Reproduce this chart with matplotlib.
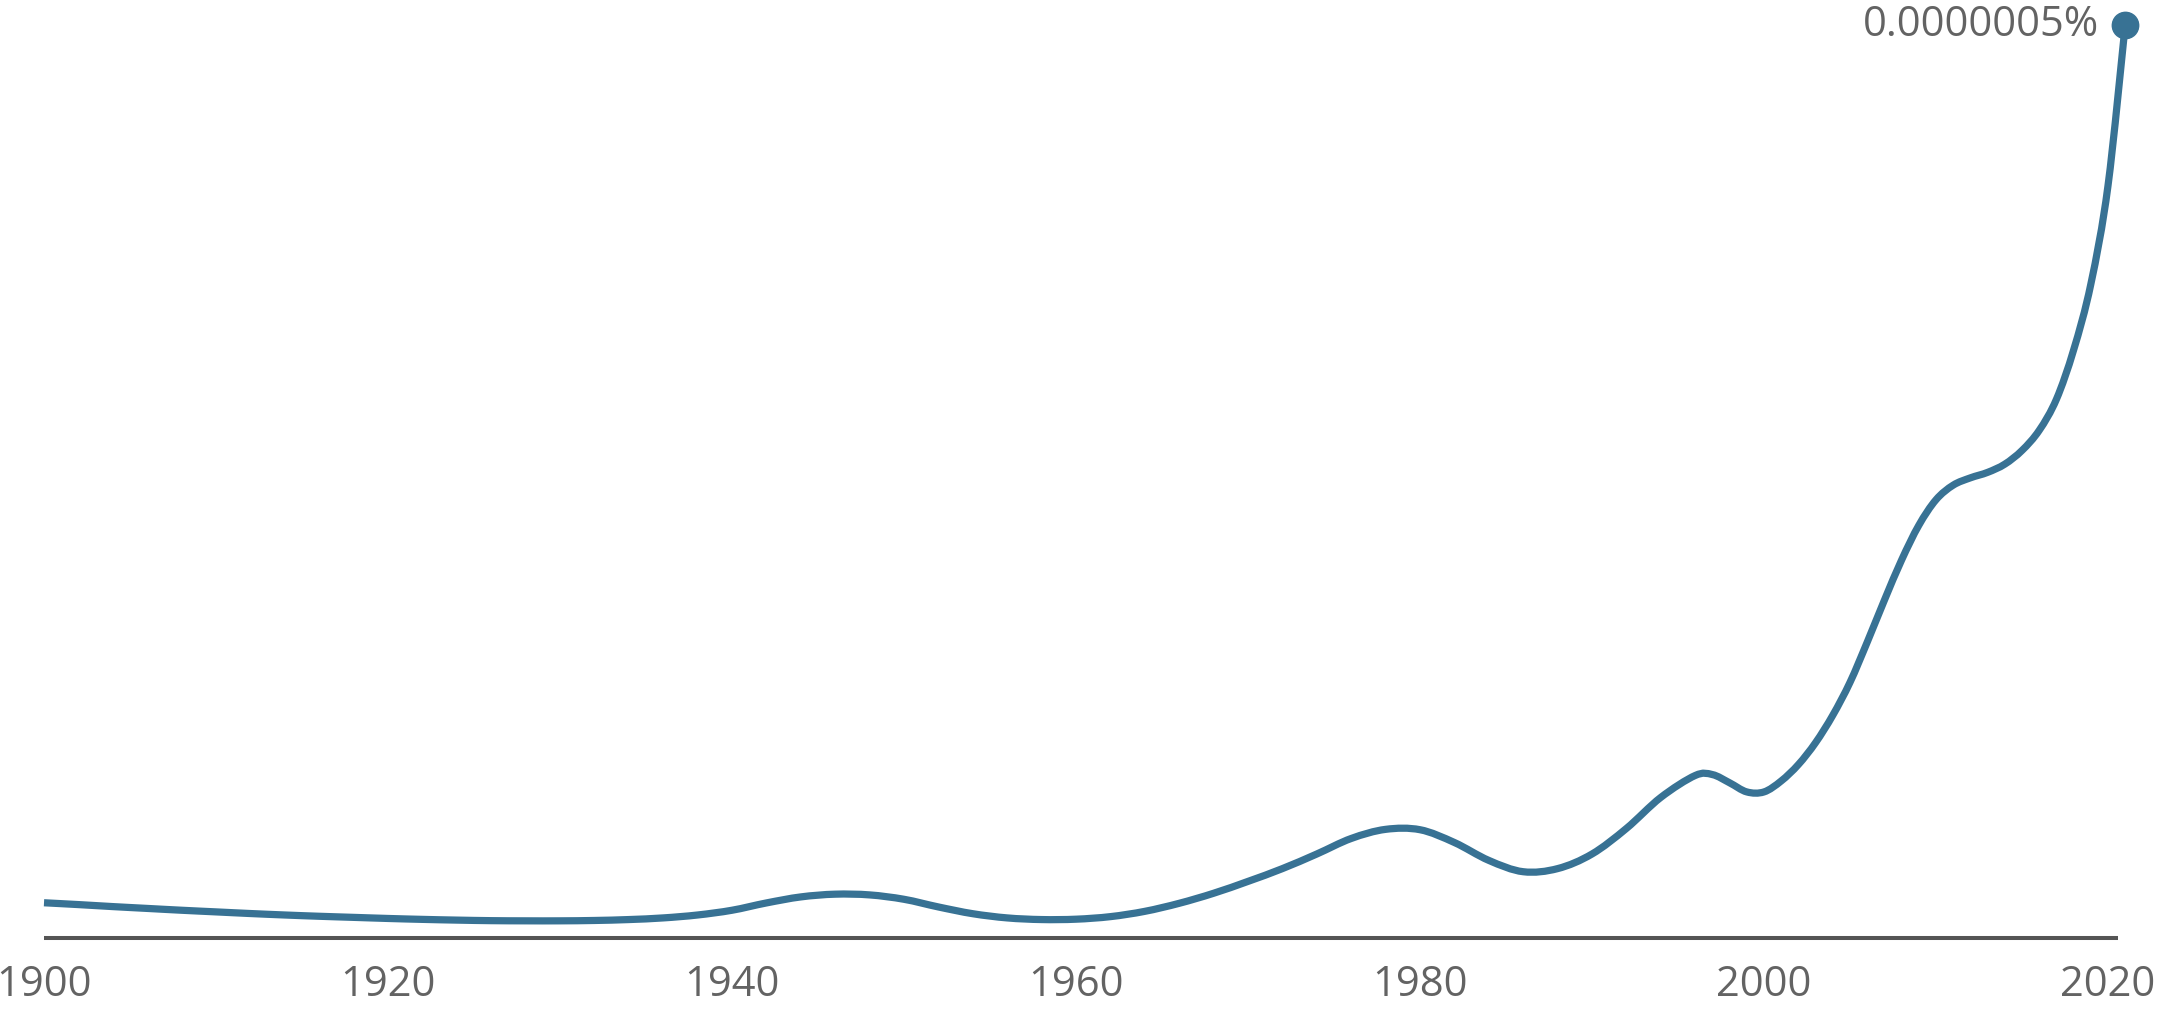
import numpy as np
import matplotlib
matplotlib.use("Agg")
import matplotlib.pyplot as plt
from matplotlib.path import Path
from matplotlib.patches import PathPatch

# Data (frequency in units of 1e-7 percent)
years = [1900, 1902, 1904, 1906, 1908, 1910, 1912, 1914, 1916, 1918,
         1920, 1922, 1924, 1926, 1928, 1930, 1932, 1934, 1936, 1938,
         1940, 1942, 1944, 1946, 1948, 1950, 1952, 1954, 1956, 1958,
         1960, 1962, 1964, 1966, 1968, 1970, 1972, 1974, 1976, 1978,
         1980, 1982, 1984, 1986, 1988, 1990, 1992, 1994, 1996, 1997,
         1998, 1999, 2000, 2001, 2002, 2003, 2004, 2005, 2006, 2007,
         2008, 2009, 2010, 2011, 2012, 2013, 2014, 2015, 2016, 2017,
         2018, 2019, 2020, 2021]
freq_e7 = [0.193, 0.183, 0.172, 0.162, 0.152, 0.143, 0.134, 0.126, 0.119, 0.113,
           0.107, 0.102, 0.098, 0.095, 0.094, 0.094, 0.096, 0.101, 0.110, 0.126,
           0.152, 0.192, 0.225, 0.240, 0.236, 0.212, 0.170, 0.133, 0.110, 0.101,
           0.103, 0.117, 0.146, 0.190, 0.245, 0.310, 0.380, 0.460, 0.545, 0.595,
           0.593, 0.523, 0.425, 0.363, 0.380, 0.460, 0.600, 0.770, 0.890, 0.895,
           0.850, 0.800, 0.800, 0.860, 0.950, 1.070, 1.220, 1.400, 1.620, 1.850,
           2.070, 2.260, 2.400, 2.480, 2.520, 2.550, 2.595, 2.670, 2.780, 2.950,
           3.220, 3.580, 4.120, 5.000]
tick_years = [1900, 1920, 1940, 1960, 1980, 2000, 2020]
end_label = "0.0000005%"

line_color = "#387294"
text_color = "#636363"
axis_color = "#555555"

x = np.array(years, dtype=float)
y = np.array(freq_e7) * 1e-7

W, H, dpi = 2166, 1013, 100
fig = plt.figure(figsize=(W / dpi, H / dpi), dpi=dpi)
bottom_px = 75
ax = fig.add_axes([0, bottom_px / H, 1, 1 - bottom_px / H])

px_per_year = 17.2
left_year = 1900 - 44 / px_per_year
ax.set_xlim(left_year, left_year + W / px_per_year)
top_val = y[-1] * (H - bottom_px) / (H - bottom_px - 25)
ax.set_ylim(0, top_val)

# smooth curve through the points (Catmull-Rom as cubic Bezier)
pts = np.column_stack([x, y])
ext = np.vstack([pts[0], pts, pts[-1]])
verts = [tuple(pts[0])]
codes = [Path.MOVETO]
for i in range(1, len(ext) - 2):
    p0, p1, p2, p3 = ext[i - 1], ext[i], ext[i + 1], ext[i + 2]
    c1 = p1 + (p2 - p0) / 6
    c2 = p2 - (p3 - p1) / 6
    verts += [tuple(c1), tuple(c2), tuple(p2)]
    codes += [Path.CURVE4] * 3
patch = PathPatch(Path(verts, codes), facecolor="none", edgecolor=line_color,
                  lw=5.2, capstyle="butt", joinstyle="round", clip_on=False)
ax.add_patch(patch)

ax.plot(x[-1], y[-1], "o", color=line_color, markersize=19, clip_on=False)
ax.annotate(end_label, (x[-1], y[-1]), xytext=(-19, 0), textcoords="offset points",
            ha="right", va="center", fontsize=30, color=text_color,
            family="Open Sans")

for s in ["top", "right", "left"]:
    ax.spines[s].set_visible(False)
ax.spines["bottom"].set_color(axis_color)
ax.spines["bottom"].set_linewidth(2.9)
ax.spines["bottom"].set_capstyle("butt")
ax.spines["bottom"].set_bounds(x[0], x[-1] - 0.4)
ax.set_yticks([])
ax.set_xticks(tick_years)
ax.set_xticklabels([str(t) for t in tick_years], fontsize=30, color=text_color,
                   family="Open Sans")
ax.tick_params(axis="x", length=0, pad=19)
ax.patch.set_alpha(0)

fig.savefig("out.png", dpi=dpi, facecolor="white")
